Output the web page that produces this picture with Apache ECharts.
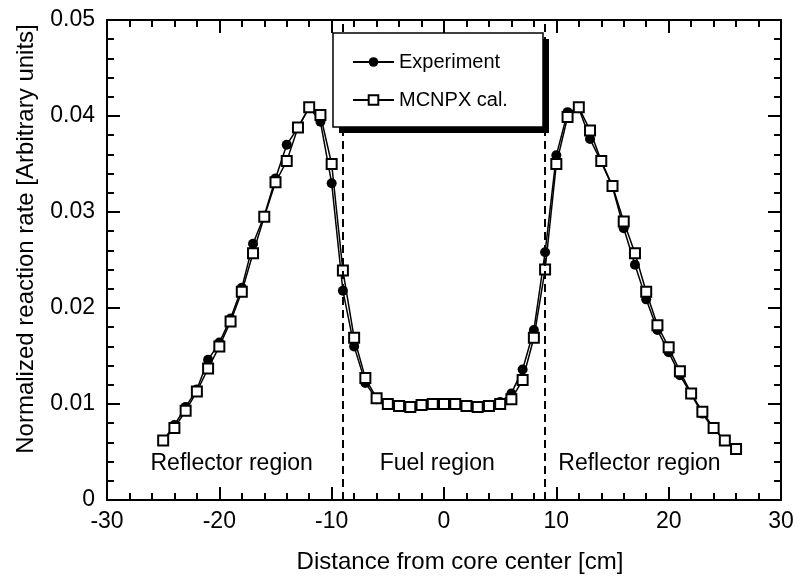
<!DOCTYPE html>
<html>
<head>
<meta charset="utf-8">
<script src="https://cdn.jsdelivr.net/npm/echarts@6/dist/echarts.min.js"></script>
<style>
  html, body { margin: 0; padding: 0; background: #fff; }
  #chart { width: 798px; height: 582px; }
</style>
</head>
<body>
<div id="chart"></div>
<script>
// measurement positions [cm]
const positions = [
  -25, -24, -23, -22, -21, -20, -19, -18, -17, -16, -15, -14, -13,
  -12, -11, -10, -9, -8, -7, -6, -5, -4, -3, -2, -1, 0,
  1, 2, 3, 4, 5, 6, 7, 8, 9, 10, 11, 12, 13,
  14, 15, 16, 17, 18, 19, 20, 21, 22, 23, 24, 25, 26
]

const experiment = [
  0.0062, 0.0078, 0.0097, 0.0115, 0.0146, 0.0164, 0.0189, 0.0221, 0.0267, 0.0296, 0.0335, 0.0370, 0.0388,
  0.0409, 0.0394, 0.0330, 0.0218, 0.0160, 0.0122, 0.0105, 0.0099, 0.0097, 0.0097, 0.0099, 0.0100, 0.0101,
  0.0100, 0.0098, 0.0097, 0.0098, 0.0102, 0.0111, 0.0136, 0.0177, 0.0258, 0.0359, 0.0404, 0.0408, 0.0376,
  0.0352, 0.0326, 0.0283, 0.0245, 0.0209, 0.0177, 0.0154, 0.0130, 0.0110, 0.0090, 0.0074, 0.0062, 0.0053
]

const mcnpx = [
  0.0062, 0.0075, 0.0093, 0.0113, 0.0137, 0.0160, 0.0186, 0.0217, 0.0257, 0.0295, 0.0331, 0.0353, 0.0388,
  0.0409, 0.0401, 0.0350, 0.0239, 0.0169, 0.0127, 0.0106, 0.0100, 0.0098, 0.0097, 0.0099, 0.0100, 0.0100,
  0.0100, 0.0098, 0.0097, 0.0098, 0.0100, 0.0105, 0.0125, 0.0169, 0.0240, 0.0350, 0.0399, 0.0409, 0.0385,
  0.0353, 0.0327, 0.0290, 0.0257, 0.0217, 0.0182, 0.0159, 0.0134, 0.0111, 0.0092, 0.0075, 0.0062, 0.0053
]

const boundaries = [-9, 9]
const regionNames = ['Reflector region', 'Fuel region', 'Reflector region']
const regionX = [-18.9, -0.6, 17.4]
const regionY = 0.0038

const font = "'Liberation Sans', Arial, sans-serif"

const chart = echarts.init(document.getElementById('chart'))

const tickStyle = {
  axisLine: { show: true, onZero: false, lineStyle: { color: '#000', width: 2 } },
  axisTick: { show: true, inside: true, length: 13, lineStyle: { color: '#000', width: 2 } },
  minorTick: { show: true, splitNumber: 5, length: 7, lineStyle: { color: '#000', width: 2 } },
  splitLine: { show: false }
}

const option = {
  backgroundColor: '#fff',
  animation: false,
  textStyle: { fontFamily: font },
  grid: { left: 107, right: 17, top: 20, bottom: 82 },
  // legend frame with its drop shadow
  graphic: [
    { type: 'rect', z: 10, shape: { x: 339, y: 39, width: 210, height: 94 }, style: { fill: '#000' } },
    { type: 'rect', z: 11, shape: { x: 333, y: 33, width: 210, height: 94 },
      style: { fill: '#fff', stroke: '#000', lineWidth: 1.5 } },
    { type: 'text', z: 11, x: 26, y: 239, rotation: Math.PI / 2,
      style: { text: 'Normalized reaction rate [Arbitrary units]', font: '24px ' + font,
        fill: '#000', textAlign: 'center', textVerticalAlign: 'middle' } },
    { type: 'text', z: 11, x: 460, y: 562,
      style: { text: 'Distance from core center [cm]', font: '24px ' + font,
        fill: '#000', textAlign: 'center', textVerticalAlign: 'middle' } }
  ],
  legend: {
    left: 333,
    top: 33,
    z: 20,
    orient: 'vertical',
    padding: [19, 30, 17, 19],
    itemWidth: 41,
    itemHeight: 12,
    itemGap: 18,
    textStyle: { fontSize: 20, color: '#000', fontFamily: font },
    data: ['Experiment', 'MCNPX cal.']
  },
  xAxis: [
    Object.assign({
      type: 'value', min: -30, max: 30, interval: 10,
      axisLabel: { fontSize: 23, color: '#000', margin: 10, fontFamily: font }
    }, tickStyle),
    Object.assign({
      type: 'value', min: -30, max: 30, interval: 10, position: 'top',
      axisLabel: { show: false }
    }, tickStyle)
  ],
  yAxis: [
    Object.assign({
      type: 'value', min: 0, max: 0.05, interval: 0.01,
      axisLabel: { fontSize: 23, color: '#000', margin: 12, fontFamily: font }
    }, tickStyle),
    Object.assign({
      type: 'value', min: 0, max: 0.05, interval: 0.01, position: 'right',
      axisLabel: { show: false }
    }, tickStyle)
  ],
  series: [
    {
      name: 'Experiment',
      type: 'line',
      data: positions.map((x, i) => [x, experiment[i]]),
      symbol: 'circle',
      symbolSize: 10,
      itemStyle: { color: '#000' },
      lineStyle: { color: '#000', width: 1.5 },
      z: 3,
      markLine: {
        silent: true,
        symbol: 'none',
        label: { show: false },
        lineStyle: { color: '#000', type: [8, 5], width: 2 },
        data: boundaries.map(b => ({ xAxis: b }))
      },
      markPoint: {
        silent: true,
        symbol: 'rect',
        symbolSize: 1,
        itemStyle: { color: 'rgba(0,0,0,0)' },
        label: { show: true, position: 'inside', color: '#000', fontSize: 23, fontFamily: font,
          formatter: p => p.name },
        data: regionNames.map((n, i) => ({ name: n, coord: [regionX[i], regionY] }))
      }
    },
    {
      name: 'MCNPX cal.',
      type: 'line',
      data: positions.map((x, i) => [x, mcnpx[i]]),
      symbol: 'emptyRect',
      symbolSize: 10,
      itemStyle: { color: '#000', borderWidth: 1.5 },
      lineStyle: { color: '#000', width: 1.5 },
      z: 4
    }
  ]
}

chart.setOption(option)
</script>
</body>
</html>
